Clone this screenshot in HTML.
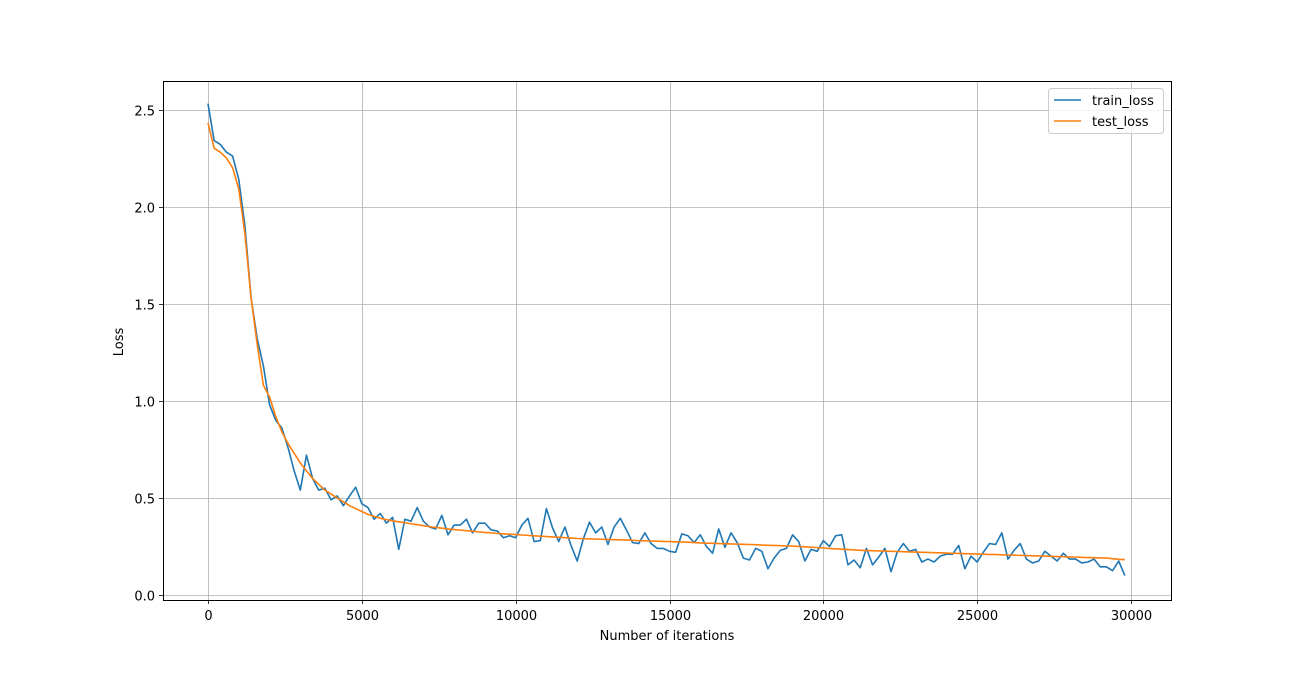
<!DOCTYPE html>
<html><head><meta charset="utf-8"><style>
body{margin:0;background:#fff;}
svg text{font-family:"DejaVu Sans","Liberation Sans",sans-serif;font-size:13px;fill:#000;}
</style></head><body>
<svg id="chart" width="1301" height="674" xmlns="http://www.w3.org/2000/svg">
<g id="grid"></g>
<g id="series"></g>
<rect x="163.5" y="81.5" width="1008" height="519" fill="none" stroke="#000" stroke-width="1"/>
<g id="ticks"></g>
<text x="667" y="640" text-anchor="middle">Number of iterations</text>
<text transform="translate(123,342) rotate(-90)" text-anchor="middle">Loss</text>
<g>
<rect x="1048.5" y="88.5" width="115" height="45" rx="3" fill="#fff" fill-opacity="0.8" stroke="#ccc"/>
<g><line x1="1054" y1="100" x2="1081" y2="100" stroke="#1f77b4" stroke-width="1.5"/><text x="1092" y="105">train_loss</text></g>
<g><line x1="1054" y1="121" x2="1081" y2="121" stroke="#ff7f0e" stroke-width="1.5"/><text x="1092" y="126">test_loss</text></g>
</g>
</svg>
<script>
const step = 200;
const trainLoss = [2.53,2.34,2.32,2.28,2.26,2.14,1.9,1.53,1.32,1.18,0.98,0.9,0.86,0.76,0.64,0.54,0.72,0.6,0.54,0.55,0.49,0.51,0.46,0.51,0.555,0.47,0.45,0.39,0.42,0.37,0.40,0.235,0.39,0.38,0.45,0.38,0.35,0.34,0.41,0.31,0.36,0.36,0.39,0.32,0.37,0.37,0.335,0.33,0.295,0.305,0.295,0.36,0.395,0.275,0.28,0.445,0.345,0.275,0.35,0.255,0.175,0.29,0.375,0.32,0.35,0.26,0.35,0.395,0.335,0.27,0.265,0.32,0.265,0.24,0.24,0.225,0.22,0.315,0.305,0.27,0.31,0.25,0.215,0.34,0.245,0.32,0.27,0.19,0.18,0.24,0.225,0.135,0.19,0.23,0.24,0.31,0.275,0.175,0.235,0.225,0.28,0.25,0.305,0.31,0.155,0.18,0.14,0.24,0.155,0.195,0.24,0.12,0.22,0.265,0.225,0.235,0.17,0.185,0.17,0.2,0.21,0.21,0.255,0.135,0.2,0.17,0.22,0.265,0.26,0.32,0.185,0.23,0.265,0.185,0.165,0.175,0.225,0.2,0.175,0.215,0.185,0.185,0.165,0.17,0.185,0.145,0.145,0.125,0.175,0.1];
const testLoss = [2.43,2.3,2.28,2.25,2.2,2.09,1.86,1.53,1.29,1.08,1.02,0.92,0.84,0.78,0.73,0.68,0.64,0.6,0.57,0.54,0.52,0.5,0.48,0.46,0.445,0.43,0.415,0.405,0.395,0.388,0.382,0.377,0.372,0.367,0.362,0.357,0.352,0.348,0.344,0.34,0.337,0.334,0.331,0.328,0.325,0.322,0.32,0.317,0.315,0.313,0.311,0.309,0.307,0.305,0.303,0.301,0.299,0.297,0.295,0.293,0.291,0.29,0.289,0.288,0.287,0.286,0.285,0.284,0.283,0.282,0.28,0.279,0.278,0.277,0.276,0.275,0.274,0.273,0.272,0.27,0.268,0.267,0.266,0.265,0.264,0.263,0.262,0.261,0.26,0.259,0.257,0.256,0.255,0.254,0.253,0.252,0.25,0.248,0.246,0.244,0.242,0.24,0.238,0.236,0.234,0.232,0.23,0.229,0.228,0.227,0.226,0.225,0.224,0.223,0.222,0.221,0.22,0.219,0.218,0.217,0.216,0.215,0.214,0.213,0.212,0.211,0.21,0.209,0.208,0.207,0.206,0.205,0.204,0.203,0.202,0.201,0.2,0.199,0.198,0.197,0.196,0.195,0.194,0.193,0.192,0.191,0.19,0.187,0.184,0.182];
const xTicks = [0,5000,10000,15000,20000,25000,30000];
const yTicks = [0.0,0.5,1.0,1.5,2.0,2.5];
const NS = "http://www.w3.org/2000/svg";
function xs(v){return 208 + v*923/30000;}
function ys(v){return 595 - v*194.2;}
const grid=document.getElementById('grid'), ticks=document.getElementById('ticks'), series=document.getElementById('series');
function mk(tag,attrs,parent){const e=document.createElementNS(NS,tag);for(const k in attrs)e.setAttribute(k,attrs[k]);parent.appendChild(e);return e;}
xTicks.forEach(t=>{
  const x=Math.round(xs(t))+0.5;
  const g=mk('line',{x1:x,x2:x,y1:81,y2:600,stroke:'#b0b0b0','stroke-width':0.8},grid);
  
  
  const tk=mk('line',{x1:x,x2:x,y1:600,y2:604,stroke:'#000','stroke-width':0.8},ticks);
  
  
  const tl=mk('text',{x:x,y:620,'text-anchor':'middle'},ticks);
  tl.textContent=String(t);
  
  
});
yTicks.forEach(t=>{
  const y=Math.round(ys(t))+0.5;
  const g=mk('line',{x1:163,x2:1171,y1:y,y2:y,stroke:'#b0b0b0','stroke-width':0.8},grid);
  
  
  const tk=mk('line',{x1:159,x2:163,y1:y,y2:y,stroke:'#000','stroke-width':0.8},ticks);
  
  
  const tl=mk('text',{x:155,y:y+5,'text-anchor':'end'},ticks);
  tl.textContent=t.toFixed(1);
  
  
});
function line(arr,color,name){
  const d=arr.map((v,i)=>(i?'L':'M')+xs(i*step).toFixed(2)+','+ys(v).toFixed(2)).join('');
  const p=mk('path',{d:d,fill:'none',stroke:color,'stroke-width':1.6,'stroke-linejoin':'round'},series);
  
  
}
line(trainLoss,'#1f77b4','train-loss-line');
line(testLoss,'#ff7f0e','test-loss-line');
</script>
</body></html>
